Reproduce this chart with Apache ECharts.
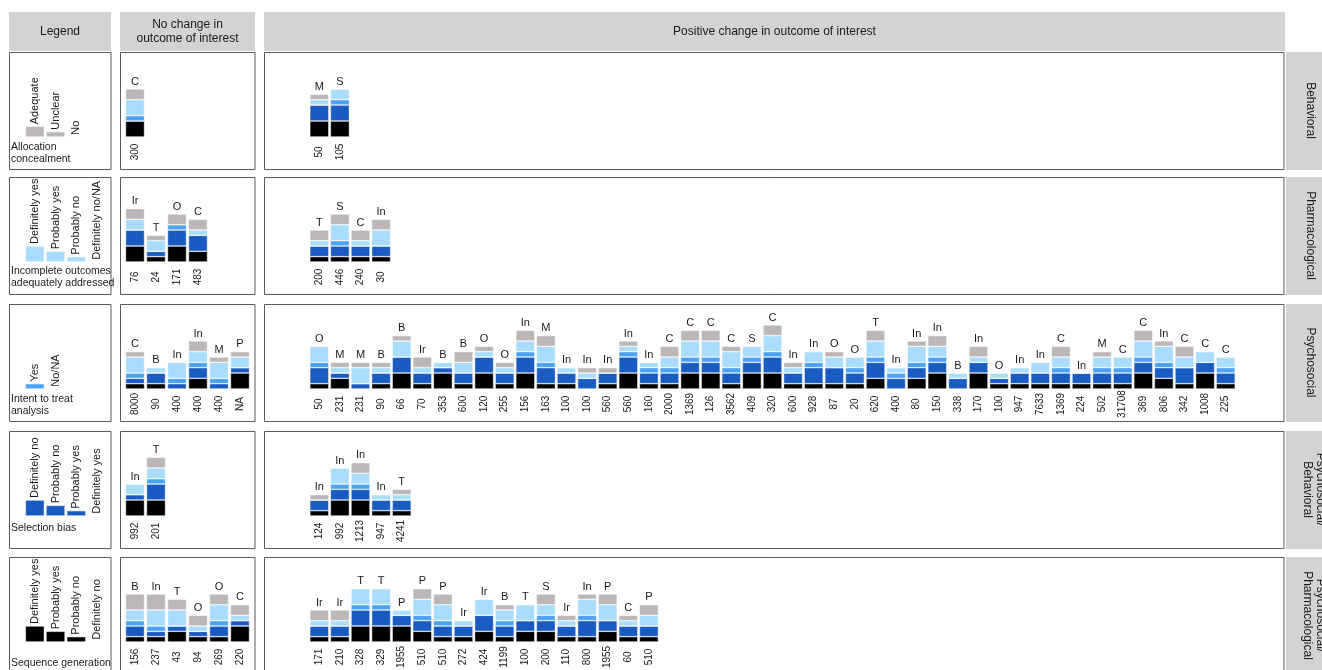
<!DOCTYPE html>
<html>
<head>
<meta charset="utf-8">
<script src="https://cdn.jsdelivr.net/npm/echarts@6/dist/echarts.min.js"></script>
<style>
  html, body { margin: 0; padding: 0; background: #ffffff; }
  #harvest { width: 1322px; height: 670px; }
</style>
</head>
<body>
<div id="harvest"></div>
<script>
  // scores per bar, bottom to top:
  // [sequence generation, selection bias, intent to treat, incomplete outcomes, allocation concealment]

  // Behavioral
  const behNoLetters = ['C'];
  const behNoN = ['300'];
  const behNoScores = [[3, 0, 1, 3, 2]];
  const behPosLetters = ['M', 'S'];
  const behPosN = ['50', '105'];
  const behPosScores = [[3, 3, 0, 1, 1], [3, 3, 1, 2, 0]];

  // Pharmacological
  const phaNoLetters = ['Ir', 'T', 'O', 'C'];
  const phaNoN = ['76', '24', '171', '483'];
  const phaNoScores = [[3, 3, 0, 2, 2], [1, 1, 0, 2, 1], [3, 3, 1, 0, 2], [2, 3, 0, 1, 2]];
  const phaPosLetters = ['T', 'S', 'C', 'In'];
  const phaPosN = ['200', '446', '240', '30'];
  const phaPosScores = [[1, 2, 0, 1, 2], [1, 2, 1, 3, 2], [1, 2, 0, 1, 2], [1, 2, 0, 3, 2]];

  // Psychosocial
  const psyNoLetters = ['C', 'B', 'In', 'In', 'M', 'P'];
  const psyNoN = ['8000', '90', '400', '400', '400', 'NA'];
  const psyNoScores = [[1, 1, 1, 3, 1], [1, 2, 0, 1, 0], [0, 1, 1, 3, 0], [2, 2, 1, 2, 2], [0, 1, 1, 3, 1], [3, 1, 0, 2, 1]];
  const psyPosLetters = ['O', 'M', 'M', 'B', 'B', 'Ir', 'B', 'B', 'O', 'O', 'In', 'M', 'In', 'In', 'In',
    'In', 'In', 'C', 'C', 'C', 'C', 'S', 'C', 'In', 'In', 'O', 'O', 'T', 'In', 'In',
    'In', 'B', 'In', 'O', 'In', 'In', 'C', 'In', 'M', 'C', 'C', 'In', 'C', 'C', 'C'];
  const psyPosN = ['50', '231', '231', '90', '66', '70', '353', '600', '120', '255', '156', '163', '100', '100', '560',
    '560', '160', '2000', '1369', '126', '3562', '409', '320', '600', '928', '87', '20', '620', '400', '80',
    '150', '338', '170', '100', '947', '7633', '1369', '224', '502', '31708', '369', '806', '342', '1008', '225'];
  const psyPosScores = [
    [1, 3, 1, 3, 0], [2, 1, 0, 1, 1], [0, 1, 0, 3, 1], [1, 2, 0, 1, 1], [3, 3, 0, 3, 1],
    [1, 2, 0, 1, 2], [3, 1, 0, 1, 0], [1, 2, 0, 2, 2], [3, 3, 0, 1, 1], [1, 2, 0, 1, 1],
    [3, 3, 1, 2, 2], [1, 3, 1, 3, 2], [1, 2, 0, 1, 0], [0, 2, 0, 1, 1], [1, 2, 0, 0, 1],
    [3, 3, 1, 1, 1], [1, 2, 1, 1, 0], [1, 2, 1, 2, 2], [3, 2, 1, 3, 2], [3, 2, 1, 3, 2],
    [1, 2, 1, 3, 1], [3, 2, 1, 2, 0], [3, 3, 1, 3, 2], [1, 2, 0, 1, 1], [1, 3, 1, 2, 0],
    [1, 3, 0, 2, 1], [1, 2, 1, 2, 0], [2, 3, 1, 3, 2], [0, 2, 1, 1, 0], [2, 2, 1, 3, 1],
    [3, 2, 1, 2, 2], [0, 2, 0, 1, 0], [3, 2, 0, 1, 2], [1, 1, 0, 1, 0], [1, 2, 0, 1, 0],
    [1, 2, 0, 2, 0], [1, 2, 1, 2, 2], [1, 2, 0, 0, 0], [1, 2, 1, 2, 1], [1, 2, 1, 2, 0],
    [3, 2, 1, 3, 2], [2, 2, 1, 3, 1], [1, 3, 0, 2, 2], [3, 2, 0, 2, 0], [1, 2, 1, 2, 0]
  ];

  // Psychosocial / Behavioral
  const pbNoLetters = ['In', 'T'];
  const pbNoN = ['992', '201'];
  const pbNoScores = [[3, 1, 0, 2, 0], [3, 3, 1, 2, 2]];
  const pbPosLetters = ['In', 'In', 'In', 'In', 'T'];
  const pbPosN = ['124', '992', '1213', '947', '4241'];
  const pbPosScores = [[1, 2, 0, 0, 1], [3, 2, 1, 3, 0], [3, 2, 1, 2, 2], [1, 2, 0, 1, 0], [1, 2, 0, 1, 1]];

  // Psychosocial / Pharmacological
  const ppNoLetters = ['B', 'In', 'T', 'O', 'O', 'C'];
  const ppNoN = ['156', '237', '43', '94', '269', '220'];
  const ppNoScores = [[1, 2, 1, 2, 3], [1, 1, 1, 3, 3], [2, 1, 0, 3, 2], [1, 1, 0, 1, 2], [1, 2, 1, 3, 2], [3, 1, 0, 1, 2]];
  const ppPosLetters = ['Ir', 'Ir', 'T', 'T', 'P', 'P', 'P', 'Ir', 'Ir', 'B', 'T', 'S', 'Ir', 'In', 'P', 'C', 'P'];
  const ppPosN = ['171', '210', '328', '329', '1955', '510', '510', '272', '424', '1199', '100', '200', '110', '800', '1955', '60', '510'];
  const ppPosScores = [
    [1, 2, 0, 1, 2], [1, 2, 0, 1, 2], [3, 3, 1, 3, 0], [3, 3, 1, 3, 0], [3, 2, 0, 1, 0],
    [2, 2, 1, 3, 2], [1, 2, 1, 3, 2], [1, 2, 0, 1, 0], [2, 3, 0, 3, 0], [1, 2, 1, 2, 1],
    [2, 2, 0, 3, 0], [2, 2, 1, 2, 2], [1, 2, 0, 1, 1], [1, 3, 1, 3, 1], [2, 2, 0, 3, 2],
    [1, 2, 0, 1, 1], [1, 2, 0, 2, 2]
  ];

  // legend keys (one criterion per row)
  const allocLevels = ['Adequate', 'Unclear', 'No'];
  const allocValues = [2, 1, 0];
  const incompleteLevels = ['Definitely yes', 'Probably yes', 'Probably no', 'Definitely no/NA'];
  const incompleteValues = [3, 2, 1, 0];
  const ittLevels = ['Yes', 'No/NA'];
  const ittValues = [1, 0];
  const selectionLevels = ['Definitely no', 'Probably no', 'Probably yes', 'Definitely yes'];
  const selectionValues = [3, 2, 1, 0];
  const sequenceLevels = ['Definitely yes', 'Probably yes', 'Probably no', 'Definitely no'];
  const sequenceValues = [3, 2, 1, 0];

  const rowNames = ['Behavioral', 'Pharmacological', 'Psychosocial', 'Psychosocial/\nBehavioral', 'Psychosocial/\nPharmacological'];
  const legendNames = ['Allocation\nconcealment', 'Incomplete outcomes\nadequately addressed', 'Intent to treat\nanalysis', 'Selection bias', 'Sequence generation'];

  var FONT = '"Liberation Sans", Arial, sans-serif';
  var COLORS = ['#000000', '#1a5bc2', '#4ba3f7', '#a9dcfd', '#bcb7b7'];
  var ROW_TOPS = [52, 177, 304, 431, 557];
  var ROW_H = 117;
  var UNIT_MAX = 12;

  var grids = [], xAxes = [], yAxes = [], series = [], graphics = [];

  function addAxes(left, pitch, rowTop, n, labels) {
    var gi = grids.length;
    grids.push({ left: left, top: rowTop + 21, width: pitch * n, height: 64, outerBoundsMode: 'none' });
    xAxes.push({
      gridIndex: gi, type: 'category',
      data: labels.map(function (d, i) { return i; }),
      axisLine: { show: false }, axisTick: { show: false }, splitLine: { show: false },
      axisLabel: {
        show: labels.length > 0 && labels[0] !== null,
        interval: 0, rotate: 90, margin: 15, align: 'center', verticalAlign: 'middle',
        fontSize: 10, color: '#1a1a1a', fontFamily: FONT,
        formatter: function (v, i) { return labels[i]; }
      }
    });
    yAxes.push({ gridIndex: gi, type: 'value', min: 0, max: UNIT_MAX, show: false });
    return gi;
  }

  // stacked harvest bars for one panel
  function addHarvest(left, pitch, rowTop, letters, ns, scores) {
    var gi = addAxes(left, pitch, rowTop, letters.length, ns);
    for (var k = 0; k < 5; k++) {
      series.push({
        type: 'bar', xAxisIndex: gi, yAxisIndex: gi, stack: 'h' + gi, barWidth: 19,
        data: scores.map(function (s) { return s[k]; }),
        itemStyle: { color: COLORS[k], borderColor: 'rgba(255,255,255,0.75)', borderWidth: 0.6 }
      });
    }
    // letters on top of each stack
    series.push({
      type: 'bar', xAxisIndex: gi, yAxisIndex: gi, stack: 'h' + gi, barWidth: 19,
      data: letters.map(function () { return 0; }),
      itemStyle: { color: 'transparent' },
      label: {
        show: true, position: 'top', distance: 2, fontSize: 11, color: '#1a1a1a', fontFamily: FONT,
        formatter: function (p) { return letters[p.dataIndex]; }
      }
    });
  }

  // legend key panel
  function addKey(rowTop, levels, values, color) {
    var gi = addAxes(24.5, 20.7, rowTop, levels.length, levels.map(function () { return null; }));
    series.push({
      type: 'bar', xAxisIndex: gi, yAxisIndex: gi, barWidth: 19,
      data: values,
      itemStyle: { color: color, borderColor: 'rgba(255,255,255,0.75)', borderWidth: 0.6 },
      label: {
        show: true, position: 'top', distance: 2, rotate: 90, align: 'left', verticalAlign: 'middle',
        fontSize: 11, color: '#1a1a1a', fontFamily: FONT,
        formatter: function (p) { return levels[p.dataIndex]; }
      }
    });
  }

  addKey(ROW_TOPS[0], allocLevels, allocValues, COLORS[4]);
  addKey(ROW_TOPS[1], incompleteLevels, incompleteValues, COLORS[3]);
  addKey(ROW_TOPS[2], ittLevels, ittValues, COLORS[2]);
  addKey(ROW_TOPS[3], selectionLevels, selectionValues, COLORS[1]);
  addKey(ROW_TOPS[4], sequenceLevels, sequenceValues, COLORS[0]);

  addHarvest(124.5, 21, ROW_TOPS[0], behNoLetters, behNoN, behNoScores);
  addHarvest(124.5, 21, ROW_TOPS[1], phaNoLetters, phaNoN, phaNoScores);
  addHarvest(124.5, 21, ROW_TOPS[2], psyNoLetters, psyNoN, psyNoScores);
  addHarvest(124.5, 21, ROW_TOPS[3], pbNoLetters, pbNoN, pbNoScores);
  addHarvest(124.5, 21, ROW_TOPS[4], ppNoLetters, ppNoN, ppNoScores);

  addHarvest(309, 20.6, ROW_TOPS[0], behPosLetters, behPosN, behPosScores);
  addHarvest(309, 20.6, ROW_TOPS[1], phaPosLetters, phaPosN, phaPosScores);
  addHarvest(309, 20.6, ROW_TOPS[2], psyPosLetters, psyPosN, psyPosScores);
  addHarvest(309, 20.6, ROW_TOPS[3], pbPosLetters, pbPosN, pbPosScores);
  addHarvest(309, 20.6, ROW_TOPS[4], ppPosLetters, ppPosN, ppPosScores);

  // header strips
  var headers = [
    { x: 9, w: 102, text: 'Legend' },
    { x: 120, w: 135, text: 'No change in\noutcome of interest' },
    { x: 264, w: 1021, text: 'Positive change in outcome of interest' }
  ];
  headers.forEach(function (h) {
    graphics.push({ type: 'rect', shape: { x: h.x, y: 12, width: h.w, height: 39 }, style: { fill: '#d3d3d3' }, silent: true });
    graphics.push({
      type: 'text', x: h.x + h.w / 2, y: 32,
      style: { text: h.text, fill: '#1a1a1a', font: '12px ' + FONT, align: 'center', verticalAlign: 'middle', lineHeight: 14 }
    });
  });

  // panel frames, right strips, key names
  var keyNameTops = [141, 265, 393, 522, 657];
  ROW_TOPS.forEach(function (top, r) {
    [[9.5, 101.5], [120.5, 134.5], [264.5, 1019.5]].forEach(function (p) {
      graphics.push({
        type: 'rect', shape: { x: p[0], y: top + 0.5, width: p[1], height: ROW_H },
        style: { fill: 'none', stroke: '#5a5a5a', lineWidth: 1 }, silent: true
      });
    });
    graphics.push({ type: 'rect', shape: { x: 1286, y: top, width: 36, height: ROW_H + 1 }, style: { fill: '#d3d3d3' }, silent: true });
    graphics.push({
      type: 'text', x: rowNames[r].indexOf('\n') > 0 ? 1314 : 1310, y: top + ROW_H / 2, rotation: -Math.PI / 2,
      style: { text: rowNames[r], fill: '#1a1a1a', font: '12px ' + FONT, align: 'center', verticalAlign: 'middle', lineHeight: 13 }
    });
    graphics.push({
      type: 'text', x: 11, y: keyNameTops[r],
      style: { text: legendNames[r], fill: '#1a1a1a', font: '10.5px ' + FONT, align: 'left', verticalAlign: 'top', lineHeight: 12 }
    });
  });

  var chart = echarts.init(document.getElementById('harvest'), null, { renderer: 'canvas' });
  chart.setOption({
    animation: false,
    backgroundColor: '#ffffff',
    textStyle: { fontFamily: FONT },
    grid: grids,
    xAxis: xAxes,
    yAxis: yAxes,
    series: series,
    graphic: { elements: graphics }
  });
</script>
</body>
</html>
